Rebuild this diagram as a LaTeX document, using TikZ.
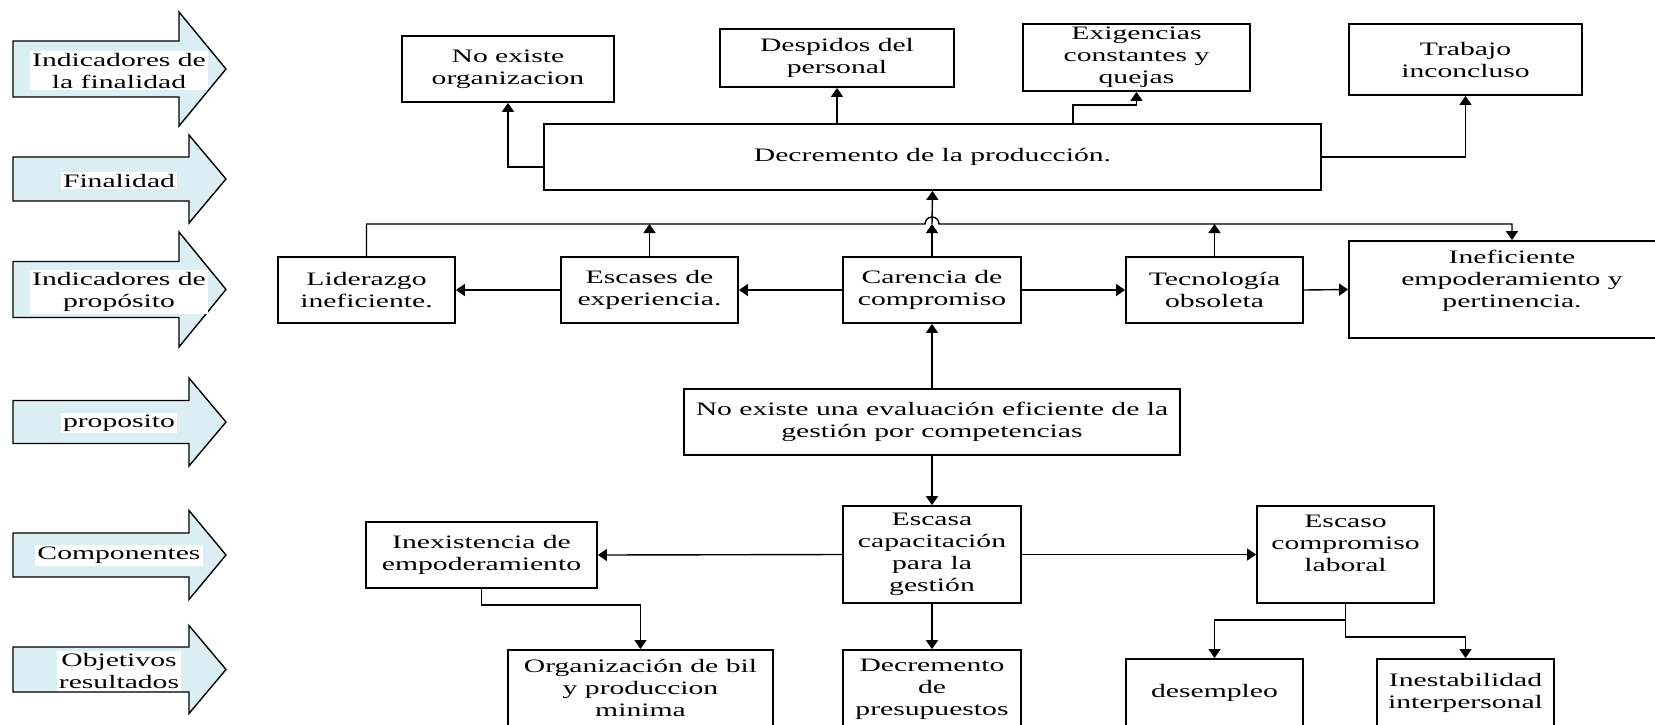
\documentclass[tikz,border=0pt]{standalone}
\usepackage{fontspec}
\setmainfont{Liberation Serif}[FakeStretch=1.56]
\usepackage{tikz}
\usetikzlibrary{calc, arrows.meta}
\tikzset{>={Triangle[length=4.5pt, width=6pt]}}
\definecolor{azulflecha}{RGB}{218, 238, 243}
\tikzset{caja/.style = {draw, line width = 0.9pt, align = center, inner sep = 0pt},
  tam/.style 2 args = {minimum width = #1*0.5pt, minimum height = #2*0.5pt},
  conector/.style = {line width = 0.7pt, ->},
  etiqueta/.style = {fill = white, align = center, inner sep = 1pt}}

\begin{document}
\begin{tikzpicture}[x = 0.5pt, y = -0.5pt, font = \fontsize{9.5}{11}\selectfont]
\useasboundingbox (0,0) rectangle (1655,724);
% flechas de la izquierda
\foreach \yc/\bh/\hh/\hb in {69/28/57/179, 179/22/44/189, 289.5/28/57.5/179, 422/21.5/44/189, 555/22/44.5/189, 669.5/22.5/44/189}
  \draw[fill = azulflecha, line width = 0.7pt] (13,\yc-\bh) -- (\hb,\yc-\bh) -- (\hb,\yc-\hh) -- (226,\yc) -- (\hb,\yc+\hh) -- (\hb,\yc+\bh) -- (13,\yc+\bh) -- cycle;
\node[etiqueta] (ifin) at (119,70.5) {Indicadores de\\la finalidad};
\node[etiqueta] (fin) at (119,180.5) {Finalidad};
\node[etiqueta] (iprop) at (119,292) {Indicadores de\\propósito};
\node[etiqueta] (prop) at (119,423) {proposito};
\node[etiqueta] (comp) at (119,555.5) {Componentes};
\node[etiqueta] (obj) at (119,671) {Objetivos\\resultados};

% arriba
\node[caja, tam={212}{66}] (noexiste) at (508,69) {No existe\\organizacion};
\node[caja, tam={234}{58}] (despidos) at (837,58) {Despidos del\\personal};
\node[caja, tam={227}{67}] (exigencias) at (1136.5,57.5) {Exigencias\\constantes y\\quejas};
\node[caja, tam={233}{71}] (trabajo) at (1465.5,59.5) {Trabajo\\inconcluso};
\node[caja, tam={777}{66}] (decremento) at (932.5,157) {Decremento de la producción.};

% fila del medio
\node[caja, tam={177}{66}] (liderazgo) at (366.5,290) {Liderazgo\\ineficiente.};
\node[caja, tam={177}{66}] (escases) at (649.5,290) {Escases de\\experiencia.};
\node[caja, tam={178}{66}] (carencia) at (932,290) {Carencia de\\compromiso};
\node[caja, tam={177}{66}] (tecnologia) at (1214.5,290) {Tecnología\\obsoleta};
\node[caja, tam={326}{97}] (ineficiente) at (1512,289.5) {Ineficiente\\empoderamiento y\\pertinencia.\\~};

% abajo
\node[caja, tam={496}{66}] (evaluacion) at (932,422) {No existe una evaluación eficiente de la\\gestión por competencias};
\node[caja, tam={178}{97}] (escasa) at (932,554.5) {Escasa\\capacitación\\para la\\gestión};
\node[caja, tam={231}{66}] (inexistencia) at (481.5,555) {Inexistencia de\\empoderamiento};
\node[caja, tam={177}{97}] (escaso) at (1345.5,554.5) {Escaso\\compromiso\\laboral\\~};
\node[caja, tam={265}{97}] (organizacion) at (640.5,698.5) {Organización de bil\\y produccion\\minima\\~};
\node[caja, tam={178}{97}] (presupuestos) at (932,698.5) {Decremento\\de\\presupuestos\\~};
\node[caja, tam={177}{68}] (desempleo) at (1214.5,693) {desempleo};
\node[caja, tam={177}{68}] (inestabilidad) at (1465.5,693) {Inestabilidad\\interpersonal};

% conectores de arriba
\draw[conector] ([yshift=-5pt]decremento.west) -| (noexiste.south);
\draw[conector] (decremento.east) -| (trabajo.south);
\draw[conector] (despidos.south |- decremento.north) -- (despidos.south);
\coordinate (codo) at (1073,105);
\draw[conector] (codo |- decremento.north) -- (codo) -| (exigencias.south);

% bus del medio
\coordinate (bus) at (0,224);
\draw[conector] (liderazgo.north) |- ([xshift=-3.5pt]carencia.north |- bus) arc[start angle=180, end angle=0, radius=3.5pt] -| (ineficiente.north);
\draw[conector] (escases.north) -- (escases.north |- bus);
\draw[conector] (carencia.north) -- (carencia.north |- bus);
\draw[conector] (tecnologia.north) -- (tecnologia.north |- bus);
\draw[conector] (carencia.north |- bus) -- (decremento.south);
\draw[conector] (carencia.west) -- (escases.east);
\draw[conector] (escases.west) -- (liderazgo.east);
\draw[conector] (carencia.east) -- (tecnologia.west);
\draw[conector] (tecnologia.east) -- (ineficiente.west);

% conectores de abajo
\draw[conector] (evaluacion.north) -- (carencia.south);
\draw[conector] (evaluacion.south) -- (escasa.north);
\draw[conector] (escasa.west) -- (inexistencia.east);
\draw[conector] (escasa.east) -- (escaso.west);
\draw[conector] (escasa.south) -- (presupuestos.north);
\draw[conector] (inexistencia.south) -- ++(0,16) -| (organizacion.north);
\draw[conector] (escaso.south) -- ++(0,16) -| (desempleo.north);
\draw[conector] (escaso.south) -- ++(0,33) -| (inestabilidad.north);
\end{tikzpicture}
\end{document}
